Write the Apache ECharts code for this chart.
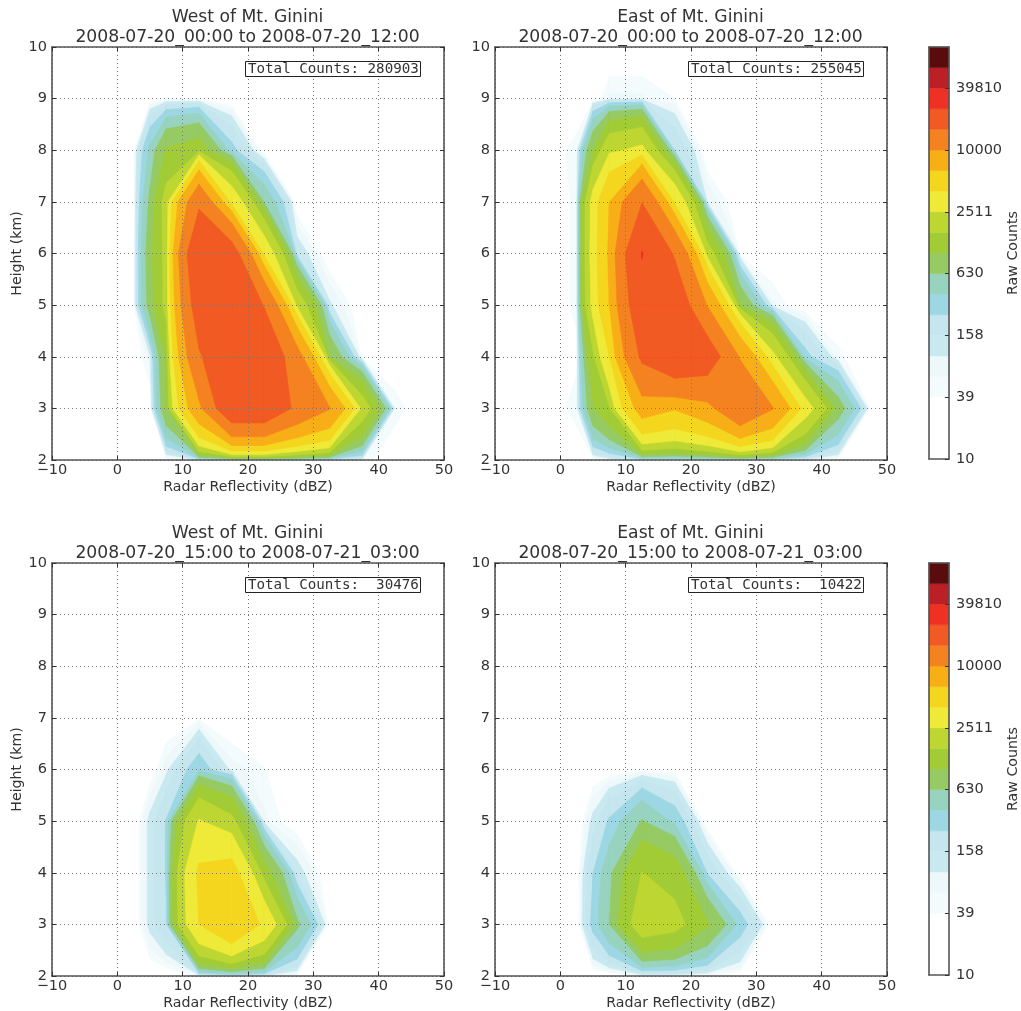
<!DOCTYPE html>
<html><head><meta charset="utf-8">
<script src="https://cdn.jsdelivr.net/npm/echarts@6/dist/echarts.min.js"></script>
<style>html,body{margin:0;padding:0;background:#fff}#c{width:1021px;height:1011px;filter:blur(0.5px)}</style>
</head><body><div id="c"></div>
<script>
// Reflectivity bins (dBZ) and heights (km) of the counted grid
const reflectivity = [-2.5,2.5,5,7.5,12.5,17.5,22.5,27.5,32.5,37.5,42.5,47.5,52.5];
const heights = [2,3,4,5,6,7,8,9,10];
// Raw counts: one row per height, one column per reflectivity bin
const westEarly = [
 [0,0,0,0,100,150,150,150,100,60,0,0,0],
 [0,0,5,950,9000,22000,22000,14500,10200,2100,60,0,0],
 [0,0,80,1100,15100,23000,22000,12000,1000,10,0,0,0],
 [0,30,780,1800,20000,24000,15500,2200,110,0,0,0,0],
 [0,20,850,1800,24000,19500,3500,150,0,0,0,0,0],
 [0,20,700,1900,14500,3500,600,0,0,0,0,0,0],
 [0,30,450,1050,1300,300,0,0,0,0,0,0,0],
 [0,0,10,38,38,0,0,0,0,0,0,0,0],
 [0,0,0,0,0,0,0,0,0,0,0,0,0]];
const eastEarly = [
 [0,0,10,60,150,150,150,100,100,60,20,0,0],
 [0,60,950,1500,7800,6500,8600,15000,10200,3100,800,20,0],
 [0,30,1400,3981,17000,22500,20000,9700,2800,300,50,0,0],
 [0,50,2900,6310,22000,21000,9800,1000,70,0,0,0,0],
 [0,50,3100,6700,25500,15200,2000,20,0,0,0,0,0],
 [0,50,3000,6300,15700,3700,100,0,0,0,0,0,0],
 [0,60,1000,2300,2800,250,0,0,0,0,0,0,0],
 [0,0,10,70,70,40,0,0,0,0,0,0,0],
 [0,0,0,0,0,0,0,0,0,0,0,0,0]];
const westLate = [
 [0,0,0,0,50,100,100,30,0,0,0,0,0],
 [0,0,120,240,4000,6350,3600,700,0,0,0,0,0],
 [0,0,120,260,4300,4790,1250,130,0,0,0,0,0],
 [0,0,120,260,2600,1800,70,10,0,0,0,0,0],
 [0,0,10,85,350,80,42,0,0,0,0,0,0],
 [0,0,0,0,30,0,0,0,0,0,0,0,0],
 [0,0,0,0,0,0,0,0,0,0,0,0,0],
 [0,0,0,0,0,0,0,0,0,0,0,0,0],
 [0,0,0,0,0,0,0,0,0,0,0,0,0]];
const eastLate = [
 [0,0,0,0,50,50,40,15,0,0,0,0,0],
 [0,0,300,631,2100,1850,1050,330,0,0,0,0,0],
 [0,5,250,550,1600,1300,240,10,0,0,0,0,0],
 [0,0,120,270,650,350,0,0,0,0,0,0,0],
 [0,0,0,5,30,20,0,0,0,0,0,0,0],
 [0,0,0,0,0,0,0,0,0,0,0,0,0],
 [0,0,0,0,0,0,0,0,0,0,0,0,0],
 [0,0,0,0,0,0,0,0,0,0,0,0,0],
 [0,0,0,0,0,0,0,0,0,0,0,0,0]];
const panelTitles = [
 'West of Mt. Ginini\n2008-07-20_00:00 to 2008-07-20_12:00',
 'East of Mt. Ginini\n2008-07-20_00:00 to 2008-07-20_12:00',
 'West of Mt. Ginini\n2008-07-20_15:00 to 2008-07-21_03:00',
 'East of Mt. Ginini\n2008-07-20_15:00 to 2008-07-21_03:00'];
const totalCounts = ['Total Counts: 280903','Total Counts: 255045','Total Counts:  30476','Total Counts:  10422'];
const colorbarTicks = ['10','39','158','630','2511','10000','39810'];
// 20 colour bands, 0.2 decades each, starting at 10 counts
const bandColors = ['#ffffff','#ffffff','#ffffff','#f4fbfc','#eef8fa','#c9e9f0','#c5e6ee','#9cd7e3','#98d3c0','#96ca62','#a2cc36','#bdd631','#efe938','#f5d61f','#f8ae17','#f58220','#f15a22','#ef3124','#bb2026','#5a0b0b'];

const panels = [westEarly,eastEarly,westLate,eastLate];
const plotW=392, plotH=413, plotX=[52,495], plotY=[47,563];
const barX=929, barW=25;
const sans='"DejaVu Sans"', mono='"DejaVu Sans Mono"', ink='#333';
const gridLine={type:[1,3],color:'#777',width:1};

function clipCell(cell,level){ // cell: [[x,y,v],...] around the quad; keep the part with v>=level
  const out=[];
  for(let i=0;i<cell.length;i++){
    const a=cell[i], b=cell[(i+1)%cell.length];
    if(a[2]>=level) out.push([a[0],a[1]]);
    if((a[2]>=level)!==(b[2]>=level)){
      const t=(level-a[2])/(b[2]-a[2]);
      out.push([a[0]+t*(b[0]-a[0]),a[1]+t*(b[1]-a[1])]);
    }
  }
  return out;
}
function contourRender(grid){
  return function(params,api){
    const k=api.value(0), level=Math.pow(10,1+0.2*k), color=bandColors[k], children=[];
    for(let r=0;r<heights.length-1;r++){
      for(let c=0;c<reflectivity.length-1;c++){
        const x0=reflectivity[c],x1=reflectivity[c+1],y0=heights[r],y1=heights[r+1];
        const poly=clipCell([[x0,y0,grid[r][c]],[x1,y0,grid[r][c+1]],[x1,y1,grid[r+1][c+1]],[x0,y1,grid[r+1][c]]],level);
        if(poly.length>2) children.push({type:'polygon',shape:{points:poly.map(p=>api.coord(p))},
          style:{fill:color,stroke:color,lineWidth:0.6}});
      }
    }
    return {type:'group',children};
  };
}
const levelsToDraw=bandColors.map((_,k)=>[k]).filter(d=>d[0]>=3);
const title=[],grid=[],xAxis=[],yAxis=[],series=[];
const tickStyle={show:true,inside:true,length:4,lineStyle:{color:'#333',width:1}};
const frame={show:true,lineStyle:{color:'#555',width:1.6}};
panels.forEach((g,i)=>{
  const left=plotX[i%2], top=plotY[i>>1], gi=grid.length, xi=xAxis.length, yi=yAxis.length;
  grid.push({left,top,width:plotW,height:plotH});
  title.push({text:panelTitles[i],left:left+plotW/2-5.5,top:top-44,textAlign:'center',
    textStyle:{fontFamily:sans,fontWeight:'normal',fontSize:17.2,lineHeight:20,color:ink}});
  title.push({text:totalCounts[i],left:left+193,top:top+14,padding:[1,2,1,3],borderColor:'#222',borderWidth:1,backgroundColor:'#fff',
    textStyle:{fontFamily:mono,fontWeight:'normal',fontSize:14.2,lineHeight:14,color:ink}});
  xAxis.push({type:'value',gridIndex:gi,min:-10,max:50,interval:10,z:5,name:'Radar Reflectivity (dBZ)',nameLocation:'middle',nameGap:20,
    nameTextStyle:{fontFamily:sans,fontSize:14.2,color:ink},
    axisLine:{...frame,onZero:false},axisTick:tickStyle,
    axisLabel:{fontFamily:sans,fontSize:14.5,color:ink,margin:3,formatter:v=>v<0?'\u2212'+(-v):''+v,showMinLabel:true,showMaxLabel:true},
    splitLine:{show:true,lineStyle:gridLine}});
  xAxis.push({type:'value',gridIndex:gi,position:'top',min:-10,max:50,interval:10,z:5,axisLine:{...frame,onZero:false},axisTick:tickStyle,axisLabel:{show:false},splitLine:{show:false}});
  yAxis.push({type:'value',gridIndex:gi,min:2,max:10,interval:1,z:5,name:i%2?'':'Height (km)',nameLocation:'middle',nameGap:28,
    nameTextStyle:{fontFamily:sans,fontSize:14.2,color:ink},
    axisLine:{...frame,onZero:false},axisTick:tickStyle,
    axisLabel:{fontFamily:sans,fontSize:14.5,color:ink,margin:5,padding:[3,0,0,0]},
    splitLine:{show:true,lineStyle:gridLine}});
  yAxis.push({type:'value',gridIndex:gi,position:'right',min:2,max:10,interval:1,z:5,axisLine:{...frame,onZero:false},axisTick:tickStyle,axisLabel:{show:false},splitLine:{show:false}});
  series.push({type:'custom',xAxisIndex:xi,yAxisIndex:yi,z:2,silent:true,clip:true,animation:false,
    coordinateSystem:'cartesian2d',encode:{x:[],y:[]},data:levelsToDraw,renderItem:contourRender(g)});
});
// colour bars
plotY.forEach(top=>{
  const gi=grid.length, xi=xAxis.length, yi=yAxis.length;
  grid.push({left:barX,top,width:barW,height:plotH-1});
  xAxis.push({type:'value',gridIndex:gi,min:0,max:1,show:false});
  yAxis.push({type:'value',gridIndex:gi,position:'right',min:0,max:20,interval:3,z:5,name:'Raw Counts',nameLocation:'middle',nameGap:52,nameRotate:90,
    nameTextStyle:{fontFamily:sans,fontSize:14.2,color:ink},
    axisLine:{...frame,onZero:false},
    axisTick:{show:true,inside:true,length:4,lineStyle:{color:'#333',width:1}},
    axisLabel:{fontFamily:sans,fontSize:14.5,color:ink,margin:7,padding:[4,0,0,0],showMaxLabel:false,formatter:(v)=>colorbarTicks[v/3]||''},
    splitLine:{show:false}});
  xAxis.push({type:'value',gridIndex:gi,position:'top',min:0,max:1,z:5,axisLine:{...frame,onZero:false},axisTick:{show:false},axisLabel:{show:false},splitLine:{show:false}});
  xAxis.push({type:'value',gridIndex:gi,position:'bottom',min:0,max:1,z:5,axisLine:{...frame,onZero:false},axisTick:{show:false},axisLabel:{show:false},splitLine:{show:false}});
  yAxis.push({type:'value',gridIndex:gi,position:'left',min:0,max:20,interval:20,z:5,axisLine:{...frame,onZero:false},axisTick:{show:false},axisLabel:{show:false},splitLine:{show:false}});
  series.push({type:'custom',xAxisIndex:xi,yAxisIndex:yi,z:2,silent:true,animation:false,coordinateSystem:'cartesian2d',encode:{x:[],y:[]},
    data:bandColors.map((_,k)=>[k]),
    renderItem(params,api){
      const k=api.value(0), a=api.coord([0,k+1]), b=api.coord([1,k]);
      return {type:'rect',shape:{x:a[0],y:a[1],width:b[0]-a[0],height:b[1]-a[1]},style:{fill:bandColors[k],stroke:bandColors[k],lineWidth:0.5}};
    }});
});
const chart=echarts.init(document.getElementById('c'),null,{renderer:'canvas'});
chart.setOption({animation:false,backgroundColor:'#fff',title,grid,xAxis,yAxis,series});
</script></body></html>
